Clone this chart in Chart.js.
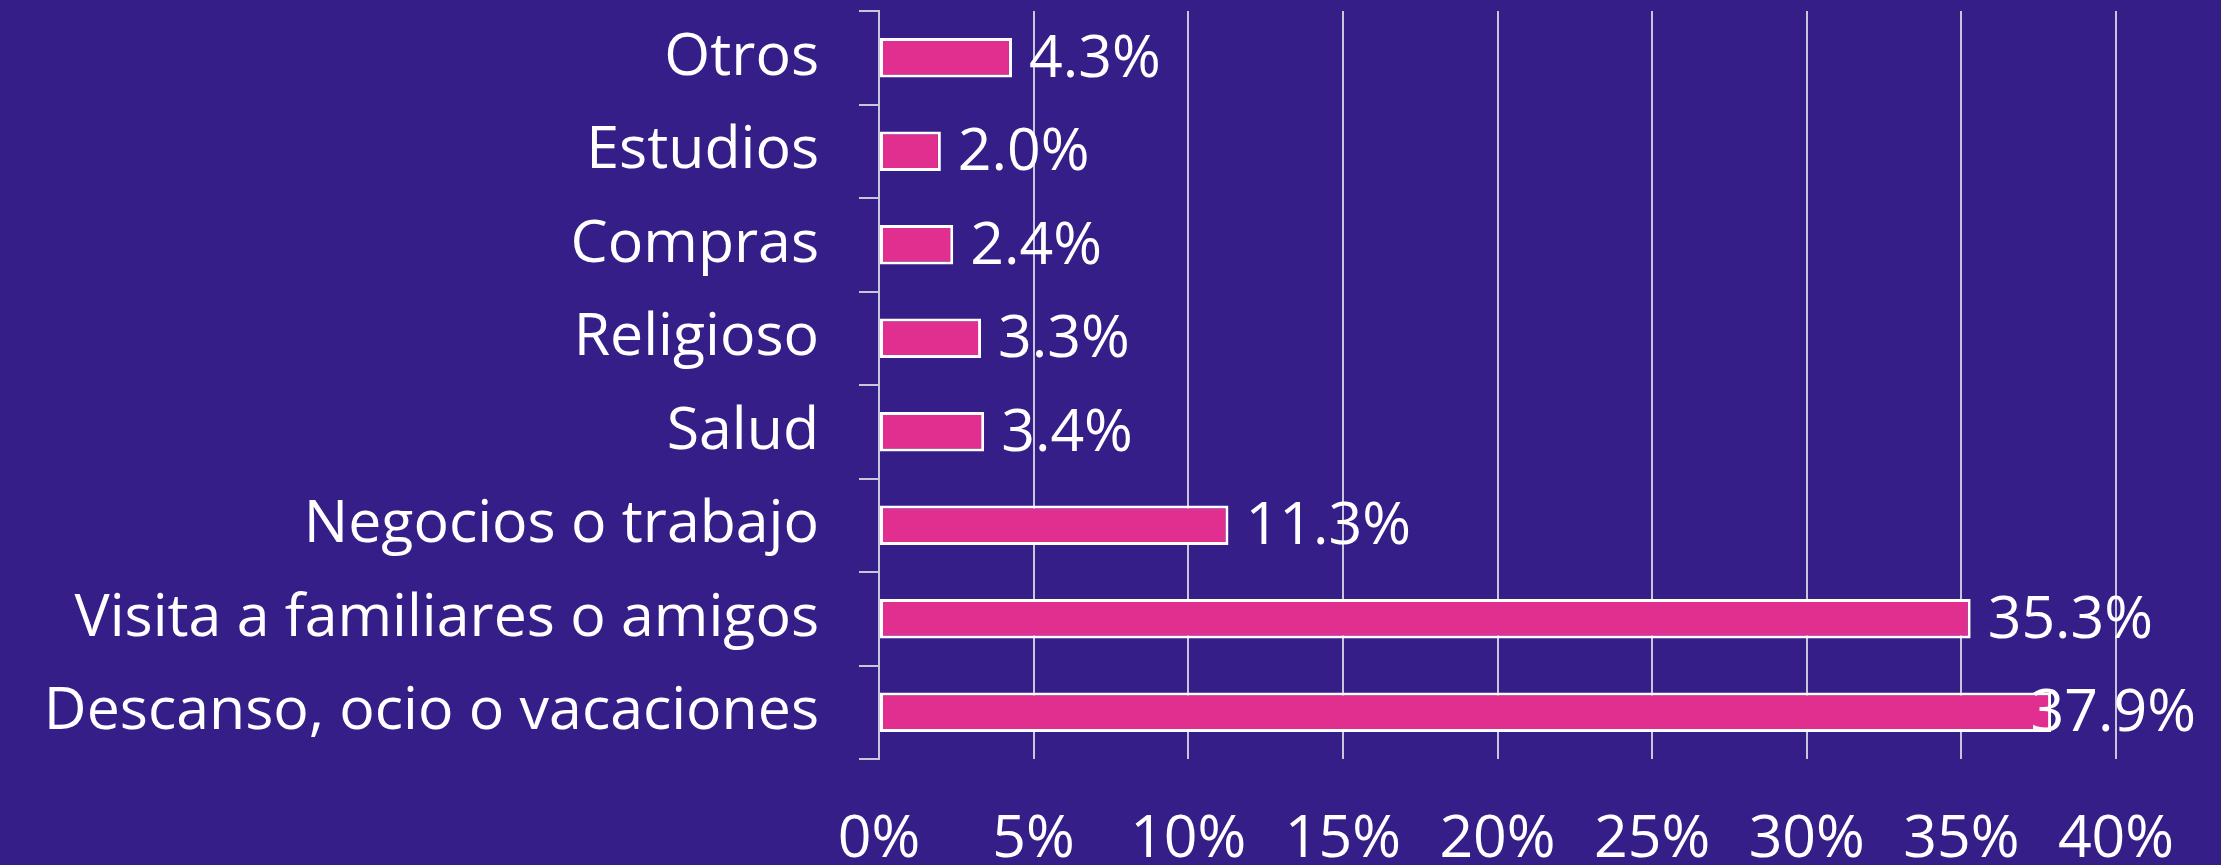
<!DOCTYPE html>
<html lang="es">

<head>
    <meta charset="UTF-8">
    <title>Motivo del viaje</title>
    <style>
        html, body { margin: 0; padding: 0; background: #361e88; }
        #wrap { width: 2221px; height: 865px; }
    </style>
</head>

<body>
    <div id="wrap"><canvas id="myChart" width="2221" height="865"></canvas></div>
    <script src="https://cdn.jsdelivr.net/npm/chart.js"></script>
    <script>
        // datos (de arriba hacia abajo)
        const categories = [
            'Otros',
            'Estudios',
            'Compras',
            'Religioso',
            'Salud',
            'Negocios o trabajo',
            'Visita a familiares o amigos',
            'Descanso, ocio o vacaciones'
        ];
        const shares = [4.3, 2.0, 2.4, 3.3, 3.4, 11.3, 35.3, 37.9];
        const xTicks = [0, 5, 10, 15, 20, 25, 30, 35, 40];

        const FONT = "'Open Sans', 'Liberation Sans', sans-serif";
        const FONT_SIZE = 59;
        const gridColor = '#c8c6da';

        // etiquetas de valor al final de cada barra
        const valueLabels = {
            id: 'valueLabels',
            afterDatasetsDraw(chart) {
                const ctx = chart.ctx;
                const meta = chart.getDatasetMeta(0);
                ctx.save();
                ctx.font = FONT_SIZE + 'px ' + FONT;
                ctx.fillStyle = '#ffffff';
                ctx.textAlign = 'left';
                ctx.textBaseline = 'middle';
                meta.data.forEach((bar, i) => {
                    const txt = shares[i].toFixed(1) + '%';
                    const w = ctx.measureText(txt).width;
                    let x = bar.x + 17;
                    if (x + w > chart.width - 25) x = chart.width - 25 - w;
                    ctx.fillText(txt, x, bar.y + 2);
                });
                ctx.restore();
            }
        };

        const data = {
            labels: categories,
            datasets: [{
                data: shares,
                backgroundColor: '#e02f8f',
                borderColor: '#ffffff',
                borderWidth: 3,
                borderSkipped: false,
                barPercentage: 0.42,
                categoryPercentage: 1
            }]
        };

        const config = {
            type: 'bar',
            data: data,
            options: {
                indexAxis: 'y',
                responsive: false,
                devicePixelRatio: 1,
                animation: false,
                layout: {
                    padding: { top: 11, right: 105, left: 0, bottom: 0 }
                },
                plugins: {
                    legend: { display: false },
                    tooltip: { enabled: false }
                },
                scales: {
                    x: {
                        min: xTicks[0],
                        max: xTicks[xTicks.length - 1],
                        afterBuildTicks: (scale) => {
                            scale.ticks = xTicks.map(v => ({ value: v }));
                        },
                        afterFit: (scale) => {
                            scale.height = 106;
                            scale.paddingLeft = 0;
                            scale.paddingRight = 0;
                        },
                        grid: {
                            color: gridColor,
                            lineWidth: 2,
                            drawTicks: false
                        },
                        border: { display: false },
                        ticks: {
                            color: '#ffffff',
                            font: { family: FONT, size: FONT_SIZE },
                            padding: 46,
                            maxRotation: 0,
                            autoSkip: false,
                            callback: (v) => v + '%'
                        }
                    },
                    y: {
                        afterFit: (scale) => {
                            scale.width = 879;
                            scale.paddingTop = 0;
                            scale.paddingBottom = 0;
                        },
                        grid: {
                            drawOnChartArea: false,
                            drawTicks: true,
                            tickLength: 20,
                            color: gridColor,
                            lineWidth: 2
                        },
                        border: { display: true, color: gridColor, width: 2 },
                        ticks: {
                            color: '#ffffff',
                            font: { family: FONT, size: FONT_SIZE },
                            padding: 40,
                            autoSkip: false
                        }
                    }
                }
            },
            plugins: [valueLabels]
        };

        const myChart = new Chart(document.getElementById('myChart'), config);
    </script>
</body>

</html>
